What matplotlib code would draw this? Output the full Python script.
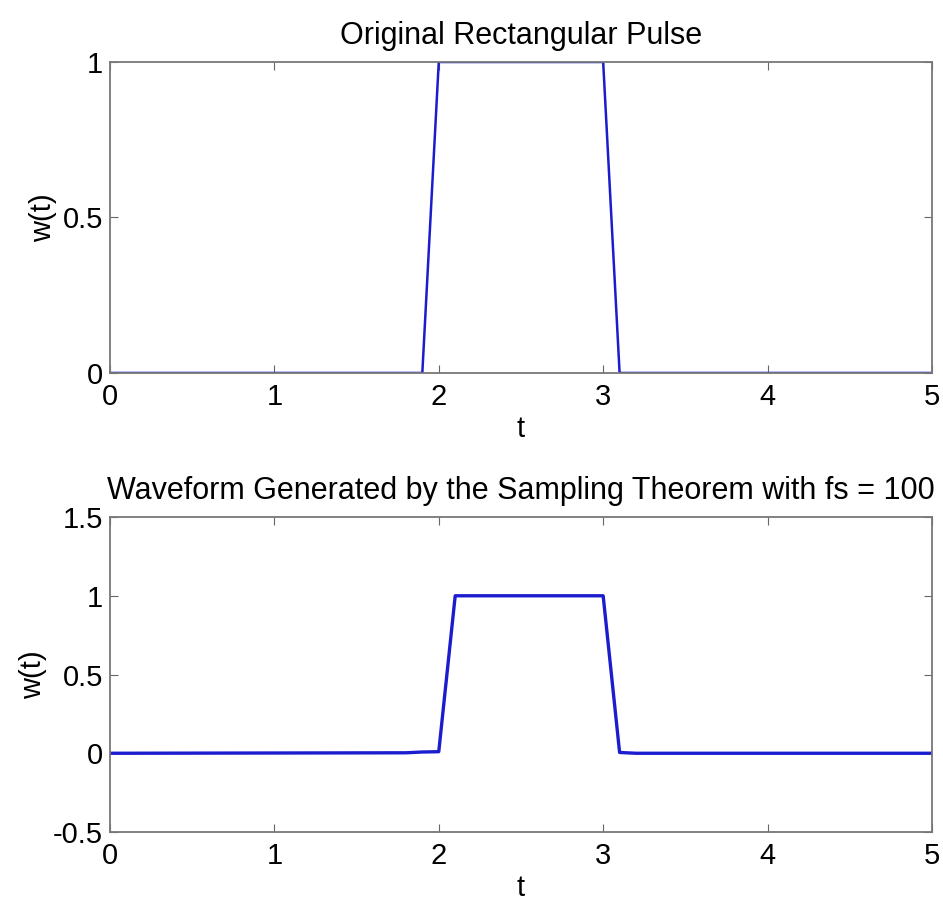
import matplotlib
matplotlib.use('Agg')
import matplotlib.pyplot as plt

# top panel: original pulse (corner points)
t_orig = [0, 1.9, 2.0, 3.0, 3.1, 5]
w_orig = [0, 0, 1, 1, 0, 0]

# bottom panel: reconstructed waveform, fs = 100
t_rec = [0, 1.8, 1.9, 2.0, 2.1, 3.0, 3.1, 3.2, 5]
w_rec = [0, 0.003, 0.008, 0.01, 1, 1, 0.005, 0, 0]

xticks = [0, 1, 2, 3, 4, 5]
yticks_top = [0, 0.5, 1]
ytick_labels_top = ['0', '0.5', '1']
yticks_bot = [-0.5, 0, 0.5, 1, 1.5]
ytick_labels_bot = ['-0.5', '0', '0.5', '1', '1.5']

plt.rcParams['font.family'] = ['Liberation Sans', 'DejaVu Sans']
FS = 21

fig = plt.figure(figsize=(9.43, 9.09), dpi=100)
ax1 = fig.add_axes([0.1166, 0.5897, 0.8717, 0.3421])
ax2 = fig.add_axes([0.1166, 0.0847, 0.8717, 0.3465])

line_col = '#1c1ccf'
ax1.plot(t_orig, w_orig, color=line_col, lw=1.8)
ax2.plot(t_rec, w_rec, color=line_col, lw=2.4)

for ax in (ax1, ax2):
    ax.set_xlim(0, 5)
    ax.set_xticks(xticks)
    ax.set_xticklabels([str(x) for x in xticks])
    ax.tick_params(direction='in', top=True, right=True, length=6,
                   color='#666666', labelsize=FS)
    ax.tick_params(axis='x', pad=7)
    ax.tick_params(axis='y', pad=5)
    for s in ax.spines.values():
        s.set_color('#777777')
        s.set_linewidth(1.3)
    ax.set_xlabel('t', fontsize=FS, labelpad=3)
    ax.set_ylabel('w(t)', fontsize=FS, labelpad=4)

ax1.set_ylim(0, 1)
ax1.set_yticks(yticks_top)
ax1.set_yticklabels(ytick_labels_top)
ax1.set_title('Original Rectangular Pulse', fontsize=22, pad=13)

ax2.set_ylim(-0.5, 1.5)
ax2.set_yticks(yticks_bot)
ax2.set_yticklabels(ytick_labels_bot)
ax2.set_title('Waveform Generated by the Sampling Theorem with fs = 100',
              fontsize=22, pad=13)

fig.savefig('out.png', dpi=100)
